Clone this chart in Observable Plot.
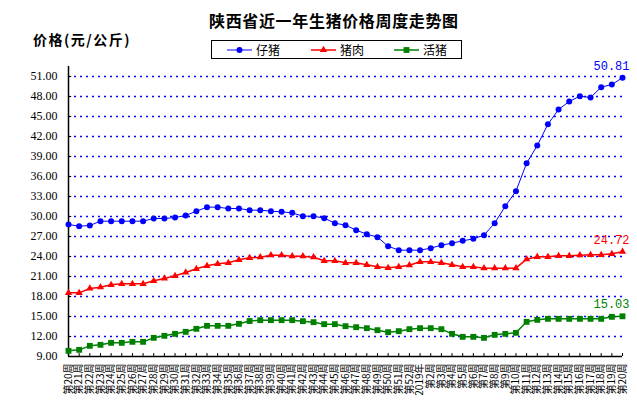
<!DOCTYPE html>
<html><head><meta charset="utf-8">
<script src="https://cdn.jsdelivr.net/npm/d3@7"></script>
<script src="https://cdn.jsdelivr.net/npm/@observablehq/plot@0.6"></script>
<style>
body{margin:0;background:#fff;}
#wrap{position:relative;width:637px;height:404px;overflow:hidden;font-family:"Noto Sans CJK SC",sans-serif;color:#000;}
#title{position:absolute;left:209px;top:11px;font-size:16px;font-weight:bold;letter-spacing:0.65px;line-height:18px;white-space:nowrap;}
#ylabel{position:absolute;left:33px;top:31px;font-size:14px;font-weight:bold;letter-spacing:1.5px;line-height:16px;white-space:nowrap;}
#legend{position:absolute;left:211px;top:40px;width:249px;height:17px;border:1.5px solid #000;background:#fff;}
#legend svg{position:absolute;left:0;top:0;}
#chart{position:absolute;left:0;top:0;}
</style></head>
<body><div id="wrap">
<div id="chart"></div>
<div id="title">陕西省近一年生猪价格周度走势图</div>
<div id="ylabel">价格(元/公斤)</div>
<div id="legend"></div>
</div>
<script>
const weeks = ["第20周","第21周","第22周","第23周","第24周","第25周","第26周","第27周","第28周","第29周","第30周","第31周","第32周","第33周","第34周","第35周","第36周","第37周","第38周","第39周","第40周","第41周","第42周","第43周","第44周","第45周","第46周","第47周","第48周","第49周","第50周","第51周","第52周","2019年","第2周","第3周","第4周","第5周","第6周","第7周","第8周","第9周","第10周","第11周","第12周","第13周","第14周","第15周","第16周","第17周","第18周","第19周","第20周"];
const piglet = [28.8,28.55,28.65,29.3,29.3,29.3,29.3,29.3,29.7,29.7,29.85,30.15,30.8,31.4,31.4,31.2,31.2,30.95,30.95,30.8,30.7,30.55,30.05,30.05,29.75,29.0,28.7,27.95,27.35,26.9,25.55,24.95,24.95,24.95,25.25,25.7,26.0,26.35,26.65,27.2,29.0,31.55,33.8,38.0,40.65,43.85,46.05,47.25,48.05,47.85,49.4,49.8,50.81];
const pork = [18.55,18.55,19.2,19.4,19.75,19.9,19.9,19.9,20.35,20.7,21.1,21.6,22.15,22.6,22.9,23.05,23.5,23.8,23.9,24.2,24.2,24.05,24.05,23.9,23.35,23.35,23.05,23.05,22.75,22.45,22.3,22.45,22.7,23.2,23.2,23.05,22.75,22.45,22.45,22.25,22.25,22.25,22.25,23.6,23.95,23.95,24.1,24.1,24.2,24.25,24.25,24.4,24.72];
const hog = [9.85,10.0,10.6,10.75,11.05,11.05,11.2,11.2,11.8,12.1,12.4,12.7,13.15,13.6,13.6,13.6,13.9,14.32,14.45,14.45,14.45,14.45,14.3,14.15,13.85,13.85,13.55,13.4,13.25,12.95,12.65,12.8,13.1,13.25,13.25,13.1,12.4,11.95,11.95,11.8,12.25,12.4,12.55,14.2,14.5,14.65,14.65,14.65,14.65,14.65,14.65,14.95,15.03];
const seriesNames = ["仔猪","猪肉","活猪"];
const seriesColors = ["#0000ff","#ff0000","#008000"];
const seriesSymbols = ["circle","triangle","square"];
const yTicks = [9,12,15,18,21,24,27,30,33,36,39,42,45,48,51];

const idx = weeks.map((_, i) => i);
const last = weeks.length - 1;
const ends = [
  {i: last, v: piglet[last], c: seriesColors[0]},
  {i: last, v: pork[last], c: seriesColors[1]},
  {i: last, v: hog[last], c: seriesColors[2]}
];

const chart = Plot.plot({
  width: 637, height: 404,
  marginTop: 66, marginBottom: 48, marginLeft: 68, marginRight: 15,
  style: {background: "#fff", overflow: "visible"},
  x: {domain: [0, last], axis: null},
  y: {domain: [9, 52.5], axis: null},
  marks: [
    Plot.ruleY(yTicks.slice(1), {stroke: "#0000ff", strokeWidth: 1.3, strokeDasharray: "2,4"}),
    Plot.axisY(yTicks, {label: null, tickSize: 0, tickPadding: 11, tickFormat: d => d.toFixed(2), fontSize: 12, fontFamily: "Liberation Serif", fill: "#000"}),
    Plot.axisX(idx, {label: null, tickSize: 0, tickPadding: 7, tickRotate: -90, tickFormat: i => weeks[i], fontSize: 10, fontFamily: "Noto Sans CJK SC", fill: "#000"}),
    Plot.ruleY(yTicks, {x1: 0, x2: 0.3, stroke: "#000"}),
    Plot.ruleX(idx, {y1: 9, y2: 9.45, stroke: "#000"}),
    Plot.ruleX([0], {stroke: "#000", strokeWidth: 1.5}),
    Plot.ruleY([9], {stroke: "#000", strokeWidth: 1.5}),
    Plot.line(idx, {x: d => d, y: d => piglet[d], stroke: seriesColors[0], strokeWidth: 1}),
    Plot.dot(idx, {x: d => d, y: d => piglet[d], fill: seriesColors[0], symbol: "circle", r: 3}),
    Plot.line(idx, {x: d => d, y: d => pork[d], stroke: seriesColors[1], strokeWidth: 1.5}),
    Plot.dot(idx, {x: d => d, y: d => pork[d], fill: seriesColors[1], symbol: "triangle", r: 2.7}),
    Plot.line(idx, {x: d => d, y: d => hog[d], stroke: seriesColors[2], strokeWidth: 1.5}),
    Plot.dot(idx, {x: d => d, y: d => hog[d], fill: seriesColors[2], symbol: "square", r: 3.3}),
    Plot.text(ends, {x: "i", y: "v", text: d => d.v.toFixed(2), fill: d => d.c, dx: 7, dy: -12, textAnchor: "end", fontSize: 12, fontFamily: "Liberation Mono"})
  ]
});
document.getElementById("chart").appendChild(chart);

// legend
const lg = d3.select("#legend").append("svg").attr("width", 249).attr("height", 17);
const segX = [15, 99, 182];
seriesNames.forEach((name, k) => {
  const g = lg.append("g").attr("transform", `translate(${segX[k]},9)`);
  g.append("line").attr("x1", 0).attr("x2", 25).attr("stroke", seriesColors[k]).attr("stroke-width", k === 0 ? 1 : 1.5);
  g.append("path").attr("d", d3.symbol(k === 0 ? d3.symbolCircle : k === 1 ? d3.symbolTriangle : d3.symbolSquare, k === 0 ? 28 : k === 1 ? 23 : 34)()).attr("transform", "translate(12.5,0)").attr("fill", seriesColors[k]);
  g.append("text").attr("x", 29).attr("y", 4.5).attr("font-size", 12).attr("font-family", "Noto Sans CJK SC").attr("fill", "#000").text(name);
});
</script>
</body></html>
